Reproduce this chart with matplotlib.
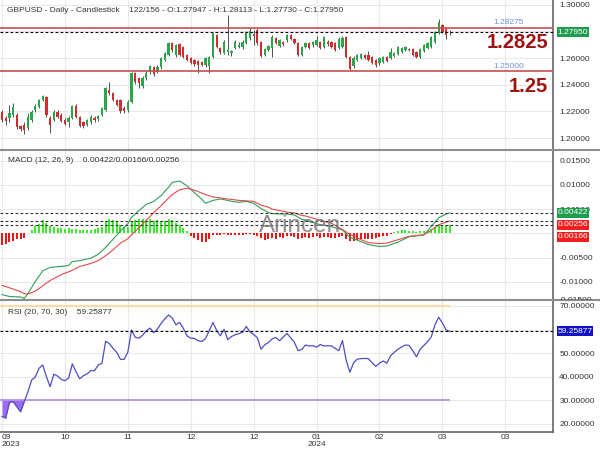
import numpy as np
import matplotlib
matplotlib.use("Agg")
import matplotlib.pyplot as plt
from matplotlib.lines import Line2D
from matplotlib.patches import Rectangle
from matplotlib.transforms import Bbox, TransformedBbox

plt.rcParams['font.family'] = ['Liberation Sans', 'DejaVu Sans']

# === DATA ===
opens = [1.2195, 1.2150, 1.2150, 1.2173, 1.2173, 1.2090, 1.2098, 1.2075, 1.2135, 1.2210,
         1.2233, 1.2285, 1.2308, 1.2150, 1.2135, 1.2195, 1.2173, 1.2135, 1.2120, 1.2150,
         1.2240, 1.2158, 1.2120, 1.2098, 1.2120, 1.2150, 1.2143, 1.2173, 1.2210, 1.2360,
         1.2338, 1.2285, 1.2285, 1.2225, 1.2210, 1.2270, 1.2488, 1.2450, 1.2390, 1.2450,
         1.2495, 1.2533, 1.2495, 1.2533, 1.2585, 1.2623, 1.2713, 1.2623, 1.2705, 1.2683,
         1.2623, 1.2600, 1.2585, 1.2578, 1.2570, 1.2548, 1.2540, 1.2608, 1.2773, 1.2675,
         1.2638, 1.2645, 1.2638, 1.2675, 1.2683, 1.2683, 1.2713, 1.2750, 1.2780, 1.2810,
         1.2720, 1.2623, 1.2660, 1.2675, 1.2750, 1.2690, 1.2720, 1.2735, 1.2773, 1.2743,
         1.2713, 1.2623, 1.2683, 1.2713, 1.2698, 1.2698, 1.2720, 1.2683, 1.2720, 1.2720,
         1.2713, 1.2675, 1.2683, 1.2758, 1.2608, 1.2540, 1.2585, 1.2600, 1.2623, 1.2623,
         1.2608, 1.2585, 1.2563, 1.2570, 1.2608, 1.2600, 1.2615, 1.2630, 1.2645, 1.2660,
         1.2668, 1.2668, 1.2645, 1.2608, 1.2653, 1.2675, 1.2683, 1.2720, 1.2788, 1.2848,
         1.2818, 1.27947]
highs = [1.2210, 1.2165, 1.2248, 1.2263, 1.2188, 1.2098, 1.2120, 1.2188, 1.2210, 1.2255,
         1.2293, 1.2323, 1.2315, 1.2165, 1.2210, 1.2210, 1.2188, 1.2150, 1.2165, 1.2248,
         1.2255, 1.2165, 1.2128, 1.2143, 1.2173, 1.2165, 1.2173, 1.2233, 1.2383, 1.2420,
         1.2345, 1.2293, 1.2293, 1.2240, 1.2285, 1.2495, 1.2495, 1.2458, 1.2465, 1.2503,
         1.2548, 1.2540, 1.2548, 1.2608, 1.2645, 1.2720, 1.2720, 1.2705, 1.2713, 1.2690,
         1.2630, 1.2608, 1.2593, 1.2585, 1.2578, 1.2608, 1.2615, 1.2795, 1.2780, 1.2683,
         1.2735, 1.2923, 1.2660, 1.2735, 1.2720, 1.2735, 1.2803, 1.2825, 1.2810, 1.2825,
         1.2728, 1.2675, 1.2698, 1.2773, 1.2758, 1.2743, 1.2728, 1.2780, 1.2780, 1.2750,
         1.2720, 1.2690, 1.2720, 1.2720, 1.2728, 1.2765, 1.2728, 1.2765, 1.2735, 1.2728,
         1.2720, 1.2758, 1.2765, 1.2765, 1.2615, 1.2615, 1.2630, 1.2638, 1.2630, 1.2653,
         1.2615, 1.2593, 1.2608, 1.2615, 1.2615, 1.2675, 1.2645, 1.2690, 1.2683, 1.2690,
         1.2675, 1.2675, 1.2653, 1.2675, 1.2705, 1.2720, 1.2765, 1.2803, 1.2893, 1.2855,
         1.2825, 1.28113]
lows = [1.2120, 1.2098, 1.2120, 1.2158, 1.2068, 1.2053, 1.2030, 1.2060, 1.2120, 1.2195,
        1.2225, 1.2278, 1.2158, 1.2038, 1.2128, 1.2150, 1.2120, 1.2098, 1.2083, 1.2143,
        1.2150, 1.2083, 1.2075, 1.2090, 1.2105, 1.2120, 1.2128, 1.2165, 1.2203, 1.2323,
        1.2278, 1.2240, 1.2188, 1.2188, 1.2195, 1.2263, 1.2405, 1.2375, 1.2375, 1.2435,
        1.2480, 1.2465, 1.2488, 1.2518, 1.2578, 1.2615, 1.2645, 1.2608, 1.2615, 1.2600,
        1.2578, 1.2555, 1.2540, 1.2488, 1.2540, 1.2533, 1.2488, 1.2600, 1.2675, 1.2630,
        1.2630, 1.2623, 1.2615, 1.2668, 1.2675, 1.2668, 1.2705, 1.2735, 1.2698, 1.2698,
        1.2608, 1.2615, 1.2653, 1.2608, 1.2705, 1.2683, 1.2690, 1.2720, 1.2735, 1.2705,
        1.2615, 1.2615, 1.2675, 1.2668, 1.2683, 1.2690, 1.2668, 1.2675, 1.2690, 1.2675,
        1.2653, 1.2668, 1.2675, 1.2600, 1.2503, 1.2525, 1.2578, 1.2593, 1.2593, 1.2578,
        1.2555, 1.2533, 1.2548, 1.2563, 1.2570, 1.2593, 1.2608, 1.2623, 1.2638, 1.2653,
        1.2653, 1.2615, 1.2600, 1.2600, 1.2645, 1.2668, 1.2675, 1.2713, 1.2780, 1.2788,
        1.2743, 1.27730]
closes = [1.2135, 1.2128, 1.2188, 1.2233, 1.2083, 1.2068, 1.2060, 1.2158, 1.2195, 1.2240,
          1.2285, 1.2315, 1.2173, 1.2098, 1.2195, 1.2158, 1.2128, 1.2105, 1.2150, 1.2240,
          1.2158, 1.2090, 1.2090, 1.2135, 1.2158, 1.2135, 1.2165, 1.2225, 1.2375, 1.2338,
          1.2285, 1.2248, 1.2203, 1.2203, 1.2270, 1.2488, 1.2420, 1.2413, 1.2450, 1.2488,
          1.2540, 1.2480, 1.2533, 1.2600, 1.2638, 1.2713, 1.2660, 1.2698, 1.2623, 1.2608,
          1.2585, 1.2563, 1.2555, 1.2548, 1.2548, 1.2600, 1.2608, 1.2788, 1.2683, 1.2645,
          1.2720, 1.2660, 1.2653, 1.2720, 1.2698, 1.2720, 1.2795, 1.2803, 1.2765, 1.2713,
          1.2615, 1.2668, 1.2690, 1.2758, 1.2713, 1.2735, 1.2705, 1.2773, 1.2743, 1.2713,
          1.2623, 1.2683, 1.2713, 1.2675, 1.2720, 1.2735, 1.2675, 1.2758, 1.2705, 1.2683,
          1.2660, 1.2743, 1.2750, 1.2608, 1.2518, 1.2600, 1.2623, 1.2630, 1.2600, 1.2585,
          1.2563, 1.2548, 1.2600, 1.2608, 1.2578, 1.2645, 1.2638, 1.2683, 1.2675, 1.2683,
          1.2660, 1.2623, 1.2608, 1.2668, 1.2698, 1.2713, 1.2758, 1.2795, 1.2870, 1.2795,
          1.2773, 1.27950]

# MACD (12, 26, 9): line and signal read at these candle numbers
macd_idx = [0, 2, 5, 6, 7, 9, 11, 13, 16, 18, 19, 21, 24, 26, 28, 30, 32, 34, 35, 37,
            39, 41, 43, 45, 46, 48, 50, 52, 54, 55, 57, 59, 61, 62, 64, 66, 68, 70, 72, 73,
            75, 77, 79, 81, 82, 86, 89, 92, 94, 97, 99, 102, 104, 107, 110, 114, 116, 118, 120, 121]
macd_line = [-0.0126, -0.0130, -0.0131, -0.0134, -0.0124, -0.0099, -0.0077, -0.0070, -0.0068, -0.0066,
             -0.0058, -0.0056, -0.0051, -0.0043, -0.0029, -0.0012, 0.0005, 0.0020, 0.0033, 0.0047,
             0.0060, 0.0066, 0.0078, 0.0095, 0.0105, 0.0108, 0.0098, 0.0084, 0.0070, 0.0062,
             0.0068, 0.0071, 0.0068, 0.0066, 0.0064, 0.0066, 0.0062, 0.0051, 0.0043, 0.0041,
             0.0040, 0.0040, 0.0038, 0.0029, 0.0027, 0.0018, 0.0014, 0.0007, -0.0008, -0.0017,
             -0.0023, -0.0027, -0.0026, -0.0018, -0.0007, -0.0003, 0.0014, 0.0032, 0.0040, 0.00422]
signal_line = [-0.0107, -0.0112, -0.0120, -0.0124, -0.0125, -0.0119, -0.0108, -0.0097, -0.0085, -0.0079,
               -0.0076, -0.0068, -0.0062, -0.0056, -0.0046, -0.0034, -0.0020, -0.0011, -0.0003, 0.0012,
               0.0027, 0.0043, 0.0057, 0.0073, 0.0080, 0.0090, 0.0093, 0.0089, 0.0083, 0.0080,
               0.0075, 0.0073, 0.0071, 0.0070, 0.0068, 0.0067, 0.0066, 0.0058, 0.0054, 0.0050,
               0.0047, 0.0044, 0.0042, 0.0037, 0.0036, 0.0027, 0.0021, 0.0008, -0.0002, -0.0013,
               -0.0019, -0.0021, -0.0020, -0.0013, -0.0006, -0.0003, 0.0006, 0.0018, 0.0023, 0.00256]
macd_hist = [-0.0023, -0.0022, -0.0018, -0.0015, -0.0012, -0.0012, -0.0010, 0.0001, 0.0008, 0.0015,
             0.0020, 0.0027, 0.0022, 0.0016, 0.0014, 0.0012, 0.0011, 0.0010, 0.0012, 0.0010,
             0.0009, 0.0007, 0.0006, 0.0007, 0.0008, 0.0010, 0.0012, 0.0014, 0.0026, 0.0030,
             0.0028, 0.0024, 0.0017, 0.0013, 0.0014, 0.0026, 0.0028, 0.0029, 0.0030, 0.0027,
             0.0029, 0.0026, 0.0027, 0.0025, 0.0026, 0.0029, 0.0027, 0.0022, 0.0018, 0.0012,
             0.0005, -0.0006, -0.0010, -0.0013, -0.0017, -0.0018, -0.0012, -0.0004, -0.0003, -0.0003,
             -0.0002, -0.0004, -0.0003, -0.0004, -0.0003, -0.0004, -0.0002, -0.0001, -0.0004, -0.0005,
             -0.0009, -0.0013, -0.0012, -0.0010, -0.0011, -0.0008, -0.0009, -0.0006, -0.0005, -0.0007,
             -0.0012, -0.0010, -0.0008, -0.0009, -0.0007, -0.0006, -0.0009, -0.0007, -0.0008, -0.0009,
             -0.0010, -0.0008, -0.0006, -0.0011, -0.0016, -0.0015, -0.0014, -0.0012, -0.0011, -0.0012,
             -0.0011, -0.0010, -0.0008, -0.0006, -0.0005, -0.0002, 0.0002, 0.0004, 0.0006, 0.0007,
             0.0005, 0.0004, 0.0003, 0.0004, 0.0005, 0.0007, 0.0009, 0.0013, 0.0018, 0.0016,
             0.0017, 0.00166]

# RSI (20, 70, 30), one value per candle
rsi = [23.0, 22.3, 29.0, 29.3, 27.1, 25.0, 29.3, 33.5, 38.5, 39.8,
       43.5, 44.9, 39.9, 35.7, 41.0, 40.2, 38.8, 38.2, 39.4, 45.4,
       42.0, 39.0, 40.4, 41.1, 42.5, 42.5, 44.9, 45.6, 55.0, 54.0,
       52.0, 50.3, 47.3, 47.3, 50.4, 59.8, 56.7, 56.3, 57.6, 59.5,
       60.6, 58.6, 60.2, 62.6, 64.5, 66.2, 64.9, 62.0, 63.0, 60.5,
       57.3, 56.3, 56.2, 55.2, 54.9, 56.2, 59.5, 63.0, 59.6, 57.3,
       60.1, 55.7, 57.0, 57.8, 58.2, 58.8, 61.3, 59.0, 57.9, 56.5,
       51.6, 53.5, 54.5, 56.0, 56.6, 55.2, 56.8, 58.3, 56.5, 54.6,
       51.0, 51.5, 53.4, 53.0, 53.1, 52.5, 53.6, 53.0, 53.1, 53.0,
       52.0, 51.0, 55.3, 47.0, 41.8, 45.8, 47.4, 47.6, 47.7, 47.6,
       45.9, 44.3, 45.7, 46.6, 45.7, 48.8, 50.3, 51.6, 52.6, 53.4,
       53.2, 51.0, 48.4, 51.6, 53.2, 54.8, 56.9, 62.0, 65.2, 62.8,
       59.8, 59.25877]

tick_idx = [0, 17, 34, 51, 68, 85, 102, 119, 136]
tick_labels = ["09\n2023", "10", "11", "12", "12", "01\n2024", "02", "03", "03"]

resistance = 1.28275
support = 1.25000
last_close = 1.27950
macd_last, hist_last, signal_last = 0.00422, 0.00166, 0.00256
rsi_last = 59.25877
rsi_hi, rsi_lo = 70, 30

# === STYLE ===
GREEN = '#27a74a'
RED = '#d42c2c'
TXT = '#333333'
GRID = '#e8e8e8'
FS = 6

W, H = 600, 450
fig = plt.figure(figsize=(6, 4.5), dpi=100)
fig.patch.set_facecolor('white')
plot_w = 553 / W

ax1 = fig.add_axes([0, 1 - 150 / H, plot_w, 150 / H])
ax2 = fig.add_axes([0, 1 - 300 / H, plot_w, 150 / H])
ax3 = fig.add_axes([0, 1 - 432 / H, plot_w, 132 / H])

x = np.arange(len(closes))
xlim = (-0.55, 148.9)


def axis_fmt(hidden):
    # labels sitting under a value box are not shown on the chart
    def f(v, pos):
        if any(abs(v - h) < 1e-9 for h in hidden):
            return ''
        return f'{v:.5f}'
    return plt.FuncFormatter(f)


for ax in (ax1, ax2, ax3):
    ax.set_xlim(*xlim)
    ax.set_xticks(tick_idx)
    ax.yaxis.tick_right()
    ax.tick_params(axis='y', length=0, pad=4.5, labelsize=FS, labelcolor=TXT)
    ax.tick_params(axis='x', length=0)
    ax.grid(True, color=GRID, lw=0.8, zorder=0)
    ax.set_axisbelow(True)
    for s in ('left', 'top', 'bottom'):
        ax.spines[s].set_visible(False)
    ax.spines['right'].set_color('#666666')
    ax.spines['right'].set_linewidth(1.2)
ax1.tick_params(axis='x', labelbottom=False)
ax2.tick_params(axis='x', labelbottom=False)
ax3.spines['bottom'].set_visible(True)
ax3.spines['bottom'].set_color('#666666')
ax3.spines['bottom'].set_linewidth(1.2)

# === CANDLES ===
o = np.array(opens); c = np.array(closes)
hi = np.array(highs); lo = np.array(lows)
colors = np.where(c >= o, GREEN, RED)
ax1.vlines(x, lo, hi, color='#505050', lw=0.7, zorder=2)
body = np.maximum(np.abs(c - o), 0.0003)
ax1.bar(x, body, bottom=np.minimum(o, c), width=0.62, color=colors, lw=0, zorder=3)

ax1.set_ylim(1.191, 1.3035)
ax1.set_yticks([1.20, 1.22, 1.24, 1.26, 1.28, 1.30])
ax1.yaxis.set_major_formatter(axis_fmt([1.28]))

for lvl in (resistance, support):
    ax1.axhline(lvl, color='#c84f4f', lw=1.2, zorder=4)
ax1.axhline(last_close, color='black', lw=0.8, ls=(0, (2.5, 2)), zorder=4)

ax1.annotate(f'{resistance:.5f}', (137, resistance), xytext=(0, 3.8), textcoords='offset points',
             ha='center', va='center', fontsize=FS, color='#6f8fe6')
ax1.annotate(f'{support:.5f}', (137, support), xytext=(0, 3.4), textcoords='offset points',
             ha='center', va='center', fontsize=FS, color='#6f8fe6')
ax1.annotate('1.2825', (147.6, resistance), xytext=(0, -10.6), textcoords='offset points',
             ha='right', va='center', fontsize=14.5, fontweight='bold', color='#a01212')
ax1.annotate('1.25', (147.6, support), xytext=(0, -10.8), textcoords='offset points',
             ha='right', va='center', fontsize=14.5, fontweight='bold', color='#a01212')

# === MACD ===
hist_colors = np.where(np.array(macd_hist) >= 0, '#3bea2b', '#ee1515')
ax2.bar(x, macd_hist, width=0.55, color=hist_colors, lw=0, zorder=2)
ax2.plot(macd_idx, macd_line, color='#2f9e55', lw=0.8, zorder=3)
ax2.plot(macd_idx, signal_line, color='#e24a4a', lw=0.8, zorder=3)
for lvl in (macd_last, signal_last, hist_last):
    ax2.axhline(lvl, color='#333333', lw=0.8, ls=(0, (2.5, 2)), zorder=4)
ax2.set_ylim(-0.01372, 0.01718)
ax2.set_yticks([-0.010, -0.005, 0.0, 0.005, 0.010, 0.015])
ax2.yaxis.set_major_formatter(axis_fmt([0.0]))

# === RSI ===
r = np.array(rsi)
ax3.plot(x, r, color='#4d4dc6', lw=0.9, zorder=3)
ax3.fill_between(x, r, rsi_lo, where=r < rsi_lo, interpolate=True, color='#9d6bf0', lw=0, zorder=2)
ax3.hlines(rsi_hi, xlim[0], x[-1], color='#ffd591', lw=1.2, zorder=2)
ax3.hlines(rsi_lo, xlim[0], x[-1], color='#b18af2', lw=1.2, zorder=2)
ax3.axhline(rsi_last, color='black', lw=0.8, ls=(0, (2.5, 2)), zorder=4)
ax3.set_ylim(16.4, 72.55)
ax3.set_yticks([20, 30, 40, 50, 60, 70])
ax3.yaxis.set_major_formatter(axis_fmt([60]))
ax3.set_xticklabels(tick_labels, fontsize=FS, color=TXT, linespacing=1.05)
ax3.tick_params(axis='x', pad=1.5)
ax3.get_xticklabels()[0].set_horizontalalignment('left')

# === FIGURE DECOR ===
for ypx in (150, 300):
    fig.add_artist(Line2D([0, 1], [1 - ypx / H] * 2, transform=fig.transFigure,
                          color='#8e8e8e', lw=1.5))


def fig_y(ax, val):
    return fig.transFigure.inverted().transform(ax.transData.transform((0, val)))[1]


def value_box(yc, text, color, width_px=32, height_px=10):
    fig.add_artist(Rectangle((557 / W, yc - height_px / 2 / H), width_px / W, height_px / H,
                             transform=fig.transFigure, facecolor=color, edgecolor='none'))
    fig.text(557 / W + width_px / 2 / W, yc, text, ha='center', va='center',
             fontsize=FS, color='white')


value_box(fig_y(ax1, last_close), f'{last_close:.5f}', '#1f9d4c')
yb = fig_y(ax2, macd_last)
value_box(yb, f'{macd_last:.5f}', '#1f9d4c')
value_box(yb - 12 / H, f'{signal_last:.5f}', '#f21d1d')
value_box(yb - 24 / H, f'{hist_last:.5f}', '#f21d1d')
value_box(fig_y(ax3, rsi_last), f'{rsi_last:.5f}', '#1212c4', width_px=36)

# bottom MACD label, cut by the RSI pane
t = fig.text(559 / W, 1 - 301 / H, '-0.01500', ha='left', va='center', fontsize=FS, color=TXT)
t.set_clip_box(TransformedBbox(Bbox([[plot_w, 1 - 300 / H], [1, 1 - 150 / H]]), fig.transFigure))
t.set_clip_on(True)

fig.text(7 / W, 1 - 10 / H,
         'GBPUSD - Daily - Candlestick    122/156 - O:1.27947 - H:1.28113 - L:1.27730 - C:1.27950',
         ha='left', va='center', fontsize=FS, color=TXT)
fig.text(8 / W, 1 - 161 / H, 'MACD (12, 26, 9)    0.00422/0.00166/0.00256',
         ha='left', va='center', fontsize=FS, color=TXT)
fig.text(8 / W, 1 - 312 / H, 'RSI (20, 70, 30)    59.25877',
         ha='left', va='center', fontsize=FS, color=TXT)

fig.text(300 / W, 1 - 232 / H, 'Arincen', ha='center', va='baseline', fontsize=17.5,
         color='#7a7a7a', alpha=0.85)

fig.savefig('out.png', dpi=100)
